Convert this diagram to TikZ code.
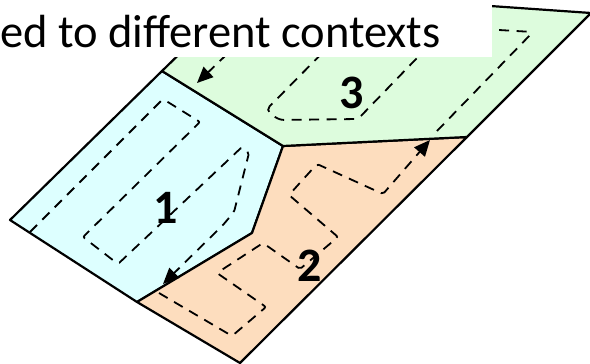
\documentclass[tikz,border=0pt]{standalone}
\usepackage{fontspec}
\setmainfont{Carlito}
\usetikzlibrary{arrows.meta}
\definecolor{ink}{HTML}{000000}
\definecolor{reg1}{HTML}{DDFFFF}
\definecolor{reg2}{HTML}{FDDDBE}
\definecolor{reg3}{HTML}{DDFCDD}
\tikzset{
  edge/.style={draw=ink,line width=2.2pt,line join=round},
  walk/.style={draw=ink,line width=1.8pt,dash pattern=on 10pt off 7.5pt,rounded corners=2pt},
  walkarr/.style={walk,-{Triangle[length=16pt,width=14pt]}},
  num/.style={font=\fontsize{48}{52}\selectfont\bfseries,text=ink,inner sep=0pt},
  ttl/.style={font=\fontsize{46.5}{52}\selectfont,text=ink,inner sep=0pt,anchor=base west},
}
\begin{document}
\begin{tikzpicture}[x=1pt,y=-1pt]
\useasboundingbox (0,0) rectangle (590,364);
\clip (0,0) rectangle (590,364);
% corners of the plane and the region borders
\coordinate (L) at (10,220);
\coordinate (T) at (246,-11);
\coordinate (R) at (591,13);
\coordinate (B) at (240,363);
\coordinate (A) at (162,71);
\coordinate (J) at (283,146);
\coordinate (K) at (252,233);
\coordinate (M) at (137,302);
\coordinate (E) at (467,137);
% regions
\filldraw[edge,fill=reg1] (L) -- (A) -- (J) -- (K) -- (M) -- cycle;
\filldraw[edge,fill=reg2] (M) -- (K) -- (J) -- (E) -- (B) -- cycle;
\filldraw[edge,fill=reg3] (A) -- (T) -- (R) -- (E) -- (J) -- cycle;
% walks inside each region
\draw[walkarr] (30,232) -- (163,99) -- (200,122) -- (83,237) -- (118,264)
  -- (242,147) -- (249,153) -- (234,212) -- (223,225) -- (163,284);
\draw[walkarr] (159,293) -- (232,336) -- (266,307) -- (217,273) -- (263,243)
  -- (300,269) -- (338,237) -- (289,195) -- (317,164) -- (383,194) -- (430,140);
\draw[walkarr,rounded corners=5pt] (437,131) -- (533,32) -- (448,27) -- (417,58)
  -- (358,119) -- (279,120) -- (266,110) -- (342,33) -- (249,33) -- (197,83);
% caption strip
\fill[white] (-5,-20) rectangle (492,57);
\node[ttl] (cap) at (0,47) {ed to different contexts};
\node[num] (n1) at (166,208) {1};
\node[num] (n2) at (310,266) {2};
\node[num] (n3) at (352,93) {3};
\end{tikzpicture}
\end{document}
